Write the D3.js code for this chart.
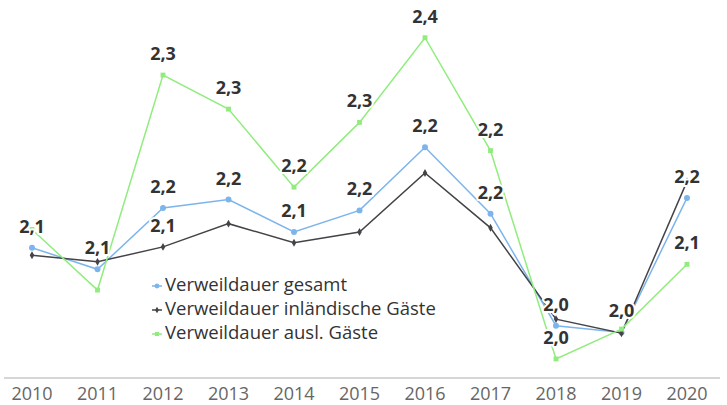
<!DOCTYPE html>
<html>
<head>
<meta charset="utf-8">
<script src="https://cdn.jsdelivr.net/npm/d3@7"></script>
<style>
  body { margin: 0; background: #fff; }
  svg { display: block; font-family: "Open Sans", sans-serif; }
</style>
</head>
<body>
<div id="container"></div>
<script>
const width = 727;
const height = 405;

const years = ['2010', '2011', '2012', '2013', '2014', '2015', '2016', '2017', '2018', '2019', '2020'];

const gesamt = [2.119, 2.093, 2.167, 2.177, 2.138, 2.164, 2.240, 2.160, 2.025, 2.017, 2.179];
const inland = [2.110, 2.102, 2.120, 2.148, 2.125, 2.138, 2.209, 2.143, 2.033, 2.016, 2.199];
const ausland = [2.141, 2.068, 2.327, 2.286, 2.192, 2.270, 2.372, 2.236, 1.985, 2.021, 2.099];

// which data labels survive (the others are hidden by overlap)
const gesamtLabels = [1, 1, 1, 1, 1, 1, 1, 1, 1, 1, 1];
const inlandLabels = [0, 0, 1, 0, 0, 0, 0, 0, 0, 0, 0];
const auslandLabels = [0, 0, 1, 1, 1, 1, 1, 1, 1, 0, 1];

const seriesNames = ['Verweildauer gesamt', 'Verweildauer inländische Gäste', 'Verweildauer ausl. Gäste'];

const series = [
    {name: seriesNames[0], values: gesamt, labels: gesamtLabels, color: '#7cb5ec', symbol: d3.symbolCircle, size: 28},
    {name: seriesNames[1], values: inland, labels: inlandLabels, color: '#434348', symbol: d3.symbolDiamond, size: 18},
    {name: seriesNames[2], values: ausland, labels: auslandLabels, color: '#90ed7d', symbol: d3.symbolSquare, size: 24}
];

const svg = d3.select('#container')
    .append('svg')
    .attr('width', width)
    .attr('height', height);

const xScale = d3.scalePoint()
    .domain(years)
    .range([32, 687]);

const yScale = d3.scaleLinear()
    .domain([2.0, 2.4])
    .range([346.5, 14.5]);

// x axis
const xAxis = svg.append('g').attr('id', 'x-axis');
xAxis.append('line')
    .attr('x1', 4)
    .attr('x2', 720)
    .attr('y1', 378)
    .attr('y2', 378)
    .attr('stroke', '#d6d6d6')
    .attr('stroke-width', 2);
xAxis.selectAll('text')
    .data(years)
    .enter()
    .append('text')
    .attr('x', d => xScale(d))
    .attr('y', 400)
    .attr('text-anchor', 'middle')
    .attr('fill', '#666')
    .style('font-size', '18px')
    .text(d => d);

const line = d3.line()
    .x((d, i) => xScale(years[i]))
    .y(d => yScale(d));

series.forEach(s => {
    const g = svg.append('g');
    g.append('path')
        .datum(s.values)
        .attr('d', line)
        .attr('fill', 'none')
        .attr('stroke', s.color)
        .attr('stroke-width', 1.5);
    g.selectAll('path.marker')
        .data(s.values)
        .enter()
        .append('path')
        .attr('class', 'marker')
        .attr('transform', (d, i) => 'translate(' + xScale(years[i]) + ',' + yScale(d) + ')')
        .attr('d', d3.symbol().type(s.symbol).size(s.size))
        .attr('fill', s.color);
});

// data labels on top of all lines
const fmt = v => d3.format('.1f')(v).replace('.', ',');
series.forEach(s => {
    svg.append('g')
        .selectAll('text')
        .data(s.values.map((v, i) => ({v: v, i: i})).filter(d => s.labels[d.i]))
        .enter()
        .append('text')
        .attr('x', d => xScale(years[d.i]))
        .attr('y', d => yScale(d.v) - 15)
        .attr('text-anchor', 'middle')
        .attr('fill', '#333')
        .attr('stroke', '#fff')
        .attr('stroke-width', 4)
        .attr('stroke-linejoin', 'round')
        .style('paint-order', 'stroke')
        .style('font-size', '18px')
        .style('font-weight', 'bold')
        .text(d => fmt(d.v));
});

// Legend.
const legend = svg.append('g').attr('id', 'legend');
series.forEach((s, i) => {
    const y = 291 + i * 24;
    legend.append('line')
        .attr('x1', 152)
        .attr('x2', 162)
        .attr('y1', y - 5)
        .attr('y2', y - 5)
        .attr('stroke', s.color)
        .attr('stroke-width', 1.5);
    legend.append('path')
        .attr('transform', 'translate(157,' + (y - 5) + ')')
        .attr('d', d3.symbol().type(s.symbol).size(s.size * 0.7))
        .attr('fill', s.color);
    legend.append('text')
        .attr('x', 165)
        .attr('y', y)
        .attr('fill', '#333')
        .style('font-size', '18.5px')
        .text(s.name);
});
</script>
</body>
</html>
